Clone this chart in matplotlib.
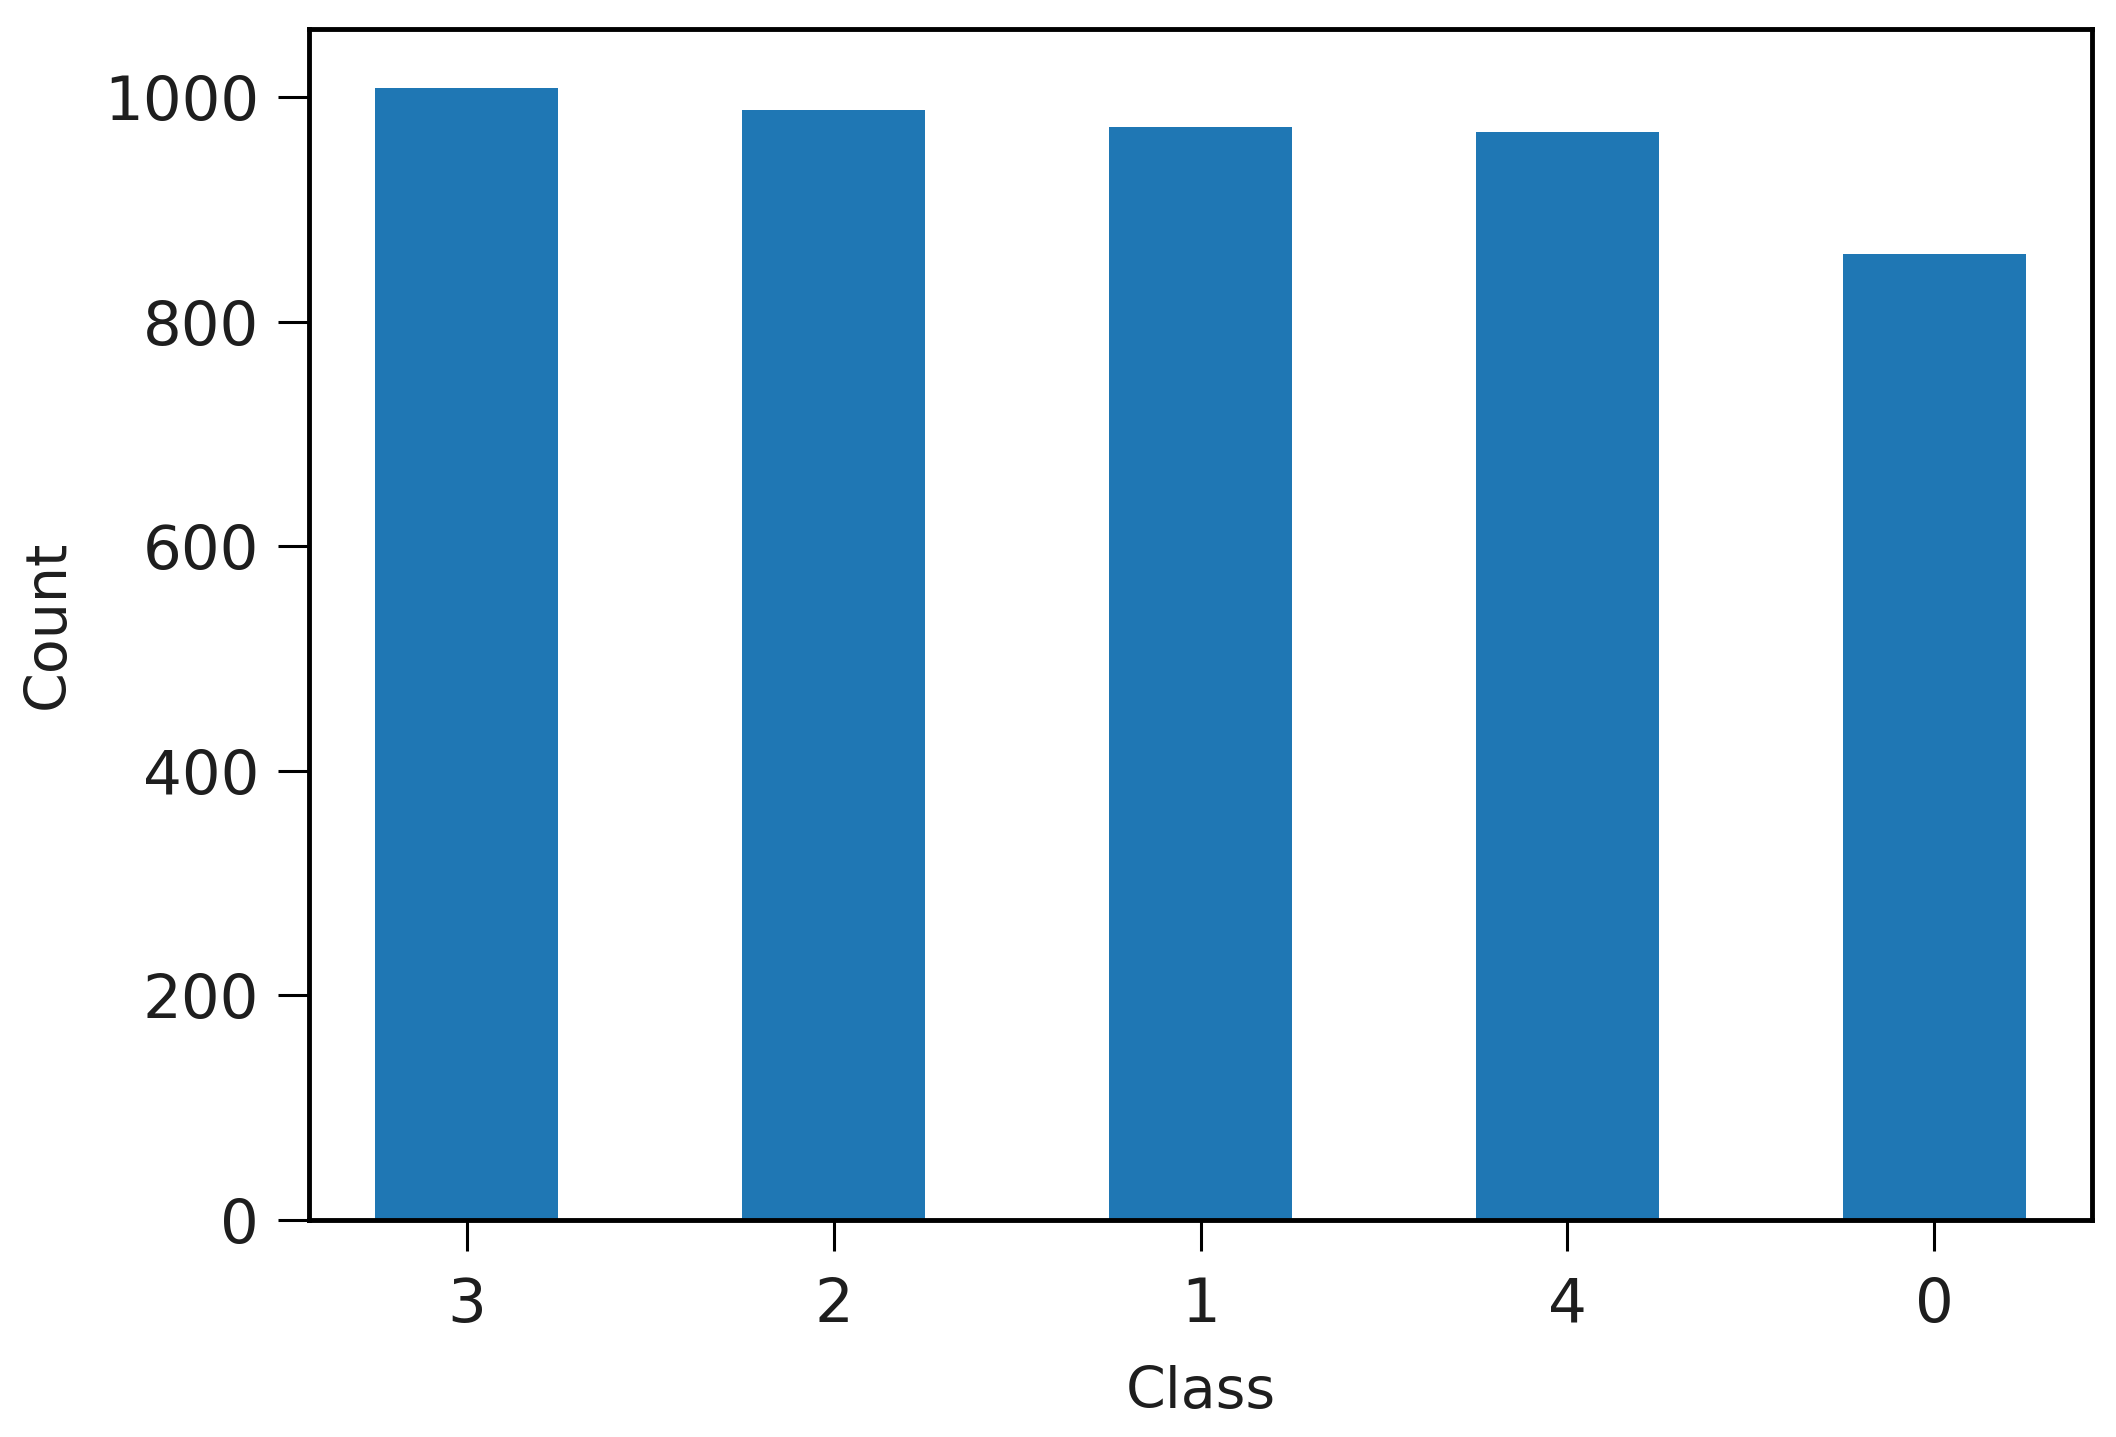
import matplotlib
matplotlib.use("Agg")
import matplotlib.pyplot as plt

classes = ["3", "2", "1", "4", "0"]
counts = [1008, 989, 974, 969, 861]

W, H = 2116, 1437
fig = plt.figure(figsize=(W / 100, H / 100), dpi=100)
ax = fig.add_axes([309 / W, 1 - 1220 / H, (2092 - 309) / W, (1220 - 29) / H])

x = list(range(len(classes)))
ax.bar(x, counts, width=0.5, color="#1f77b4")
ax.set_xticks(x)
ax.set_xticklabels(classes)
ax.set_xlim(-0.43, 4.43)
ax.set_ylim(0, 1061)
ax.set_yticks([0, 200, 400, 600, 800, 1000])

txt = "#1e1e1e"
for s in ax.spines.values():
    s.set_linewidth(3.5)
ax.tick_params(axis="both", length=22, width=2.2, labelsize=44, color="black",
               labelcolor=txt)
ax.tick_params(axis="x", pad=18)
ax.tick_params(axis="y", pad=14)
ax.set_xlabel("Class", fontsize=41, labelpad=22, color=txt)
ax.set_ylabel("Count", fontsize=41, labelpad=20, color=txt)

fig.savefig("out.png", dpi=100)
